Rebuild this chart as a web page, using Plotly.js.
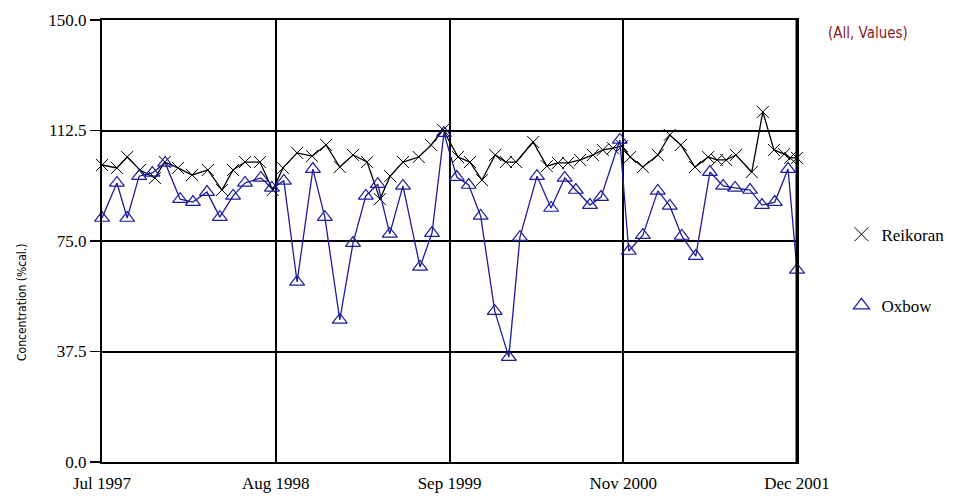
<!DOCTYPE html>
<html>
<head>
<meta charset="utf-8">
<script src="https://cdn.plot.ly/plotly-3.0.1.min.js"></script>
<style>html,body{margin:0;padding:0;background:#fff;}#chart{width:954px;height:496px;}</style>
</head>
<body>
<div id="chart"></div>
<script>
// ---- data ----
const reikoranDates = [
  '1997-07-01','1997-08-05','1997-08-29','1997-09-28','1997-11-02','1997-11-25','1997-12-26',
  '1998-01-28','1998-03-06','1998-04-08','1998-05-04','1998-06-01','1998-07-06','1998-08-05',
  '1998-08-29','1998-10-01','1998-11-05','1998-12-08','1999-01-09','1999-02-09','1999-03-14',
  '1999-04-13','1999-05-07','1999-06-06','1999-07-13','1999-08-11','1999-09-08','1999-10-13',
  '1999-11-10','1999-12-08','2000-01-08','2000-02-02','2000-02-26','2000-04-06','2000-05-08',
  '2000-06-03','2000-06-27','2000-07-25','2000-08-24','2000-09-16','2000-10-10','2000-10-31',
  '2000-11-19','2000-12-19','2001-01-23','2001-02-20','2001-03-18','2001-04-20','2001-05-21',
  '2001-06-11','2001-07-02','2001-07-25','2001-08-31','2001-09-26','2001-10-22','2001-11-15',
  '2001-11-29','2001-12-15'
];
const reikoranValues = [
  100.8, 99.8, 103.5, 99.1, 96.4, 101.8, 99.8,
  97.4, 99.1, 92.3, 99.1, 101.8, 101.8, 92.3,
  99.8, 104.9, 103.8, 107.6, 100.1, 104.2, 101.8,
  89.2, 97.0, 101.8, 103.5, 107.6, 112.7, 103.5,
  101.8, 95.7, 104.2, 101.8, 101.8, 108.6, 100.4,
  101.5, 101.5, 102.5, 104.2, 105.9, 106.5, 107.2,
  103.5, 100.1, 104.2, 111.0, 107.6, 100.1, 103.5,
  102.5, 102.5, 104.2, 98.4, 118.8, 105.9, 104.5,
  103.2, 103.2
];
const oxbowDates = [
  '1997-07-01','1997-08-05','1997-08-29','1997-09-26','1997-10-27','1997-11-26','1997-12-31',
  '1998-01-30','1998-03-04','1998-04-03','1998-05-04','1998-06-01','1998-07-08','1998-08-03',
  '1998-08-31','1998-10-01','1998-11-07','1998-12-05','1999-01-09','1999-02-09','1999-03-11',
  '1999-04-08','1999-05-06','1999-06-06','1999-07-16','1999-08-13','1999-09-10','1999-10-10',
  '1999-11-07','1999-12-05','2000-01-07','2000-02-09','2000-03-06','2000-04-15','2000-05-18',
  '2000-06-19','2000-07-15','2000-08-17','2000-09-12','2000-10-26','2000-11-16','2000-12-19',
  '2001-01-23','2001-02-20','2001-03-20','2001-04-22','2001-05-25','2001-06-25','2001-07-23',
  '2001-08-27','2001-09-24','2001-10-24','2001-11-24','2001-12-15'
];
const oxbowValues = [
  82.8, 94.7, 82.8, 97.0, 98.1, 101.5, 89.2,
  88.2, 91.6, 83.1, 90.3, 94.7, 96.4, 93.0,
  95.4, 61.1, 99.4, 83.1, 48.2, 74.3, 90.3,
  94.3, 77.4, 93.7, 66.2, 77.7, 111.6, 96.7,
  94.0, 83.5, 51.2, 35.6, 76.3, 97.0, 86.2,
  96.4, 92.3, 87.2, 89.9, 109.3, 71.6, 77.0,
  92.0, 86.9, 76.7, 69.9, 98.4, 93.7, 93.0,
  92.3, 87.2, 88.2, 99.4, 65.2
];
const xTickLabels = ['Jul 1997', 'Aug 1998', 'Sep 1999', 'Nov 2000', 'Dec 2001'];
const yTickValues = [0, 37.5, 75, 112.5, 150];
const seriesNames = ['Reikoran', 'Oxbow'];
const xStart = '1997-07-01';
const xEnd = '2001-12-15';

// ---- chart ----
const t0 = new Date(xStart + 'T00:00:00Z').getTime();
const t1 = new Date(xEnd + 'T00:00:00Z').getTime();
const xTickVals = xTickLabels.map((_, i) => new Date(t0 + i * (t1 - t0) / (xTickLabels.length - 1)).toISOString().slice(0, 19).replace('T', ' '));

const serif = 'Liberation Serif, Times New Roman, serif';
const narrow = 'Liberation Sans Narrow, DejaVu Sans Condensed, Arial Narrow, sans-serif';
const blue = '#1c1c9c';

const traces = [
  { x: reikoranDates, y: reikoranValues, type: 'scatter', mode: 'lines+markers', name: seriesNames[0],
    showlegend: false, cliponaxis: false,
    line: { color: '#000', width: 1.3 },
    marker: { symbol: 'x-thin-open', size: 12, color: '#000', line: { color: '#000', width: 1 } } },
  { x: oxbowDates, y: oxbowValues, type: 'scatter', mode: 'lines+markers', name: seriesNames[1],
    showlegend: false, cliponaxis: false,
    line: { color: blue, width: 1.3 },
    marker: { symbol: 'triangle-up-open', size: 13, color: blue, line: { color: blue, width: 1.2 } } },
  { x: [null], y: [null], type: 'scatter', mode: 'markers', name: seriesNames[0], legendgroup: 'a',
    marker: { symbol: 'x-thin-open', size: 14, color: '#000', line: { color: '#000', width: 1 } } },
  { x: [null], y: [null], type: 'scatter', mode: 'markers', name: seriesNames[1], legendgroup: 'b',
    marker: { symbol: 'triangle-up-open', size: 14, color: blue, line: { color: blue, width: 1.2 } } }
];

const layout = {
  width: 954, height: 496,
  margin: { l: 102, r: 157, t: 20, b: 34, autoexpand: false },
  paper_bgcolor: '#fff', plot_bgcolor: '#fff',
  showlegend: true,
  legend: { x: 1.064, xanchor: 'left', y: 0.555, yanchor: 'top', tracegroupgap: 46,
            font: { family: serif, size: 17, color: '#000' }, bgcolor: 'rgba(0,0,0,0)' },
  xaxis: {
    type: 'date', range: [xStart, xEnd],
    tickmode: 'array', tickvals: xTickVals, ticktext: xTickLabels,
    showgrid: true, gridcolor: '#000', gridwidth: 2,
    showline: true, linecolor: '#000', linewidth: 2, mirror: true,
    ticks: '', ticklabelstandoff: 5,
    tickfont: { family: serif, size: 17, color: '#000' },
    zeroline: false
  },
  yaxis: {
    range: [0, 150],
    tickmode: 'array', tickvals: yTickValues, tickformat: '.1f',
    showgrid: true, gridcolor: '#000', gridwidth: 2,
    showline: true, linecolor: '#000', linewidth: 2, mirror: true,
    ticks: 'outside', ticklen: 10, tickwidth: 1.2, tickcolor: '#000',
    tickfont: { family: serif, size: 17, color: '#000' },
    zeroline: false
  },
  annotations: [
    { text: 'Concentration (%cal.)', textangle: -90, xref: 'paper', yref: 'paper',
      x: (22 - 102) / 695, y: (462 - 303) / 442, xanchor: 'center', yanchor: 'middle', showarrow: false,
      font: { family: narrow, size: 12, color: '#000' } },
    { text: '(All, Values)', xref: 'paper', yref: 'paper',
      x: (868 - 102) / 695, y: (462 - 33) / 442, xanchor: 'center', yanchor: 'middle', showarrow: false,
      font: { family: narrow, size: 15, color: '#8b1a1a' } }
  ],
  shapes: [
    { type: 'line', xref: 'paper', yref: 'paper', x0: 1, x1: 1, y0: 0, y1: 1, line: { color: '#000', width: 3 } }
  ]
};

Plotly.newPlot('chart', traces, layout, { staticPlot: true, displayModeBar: false });
</script>
</body>
</html>
